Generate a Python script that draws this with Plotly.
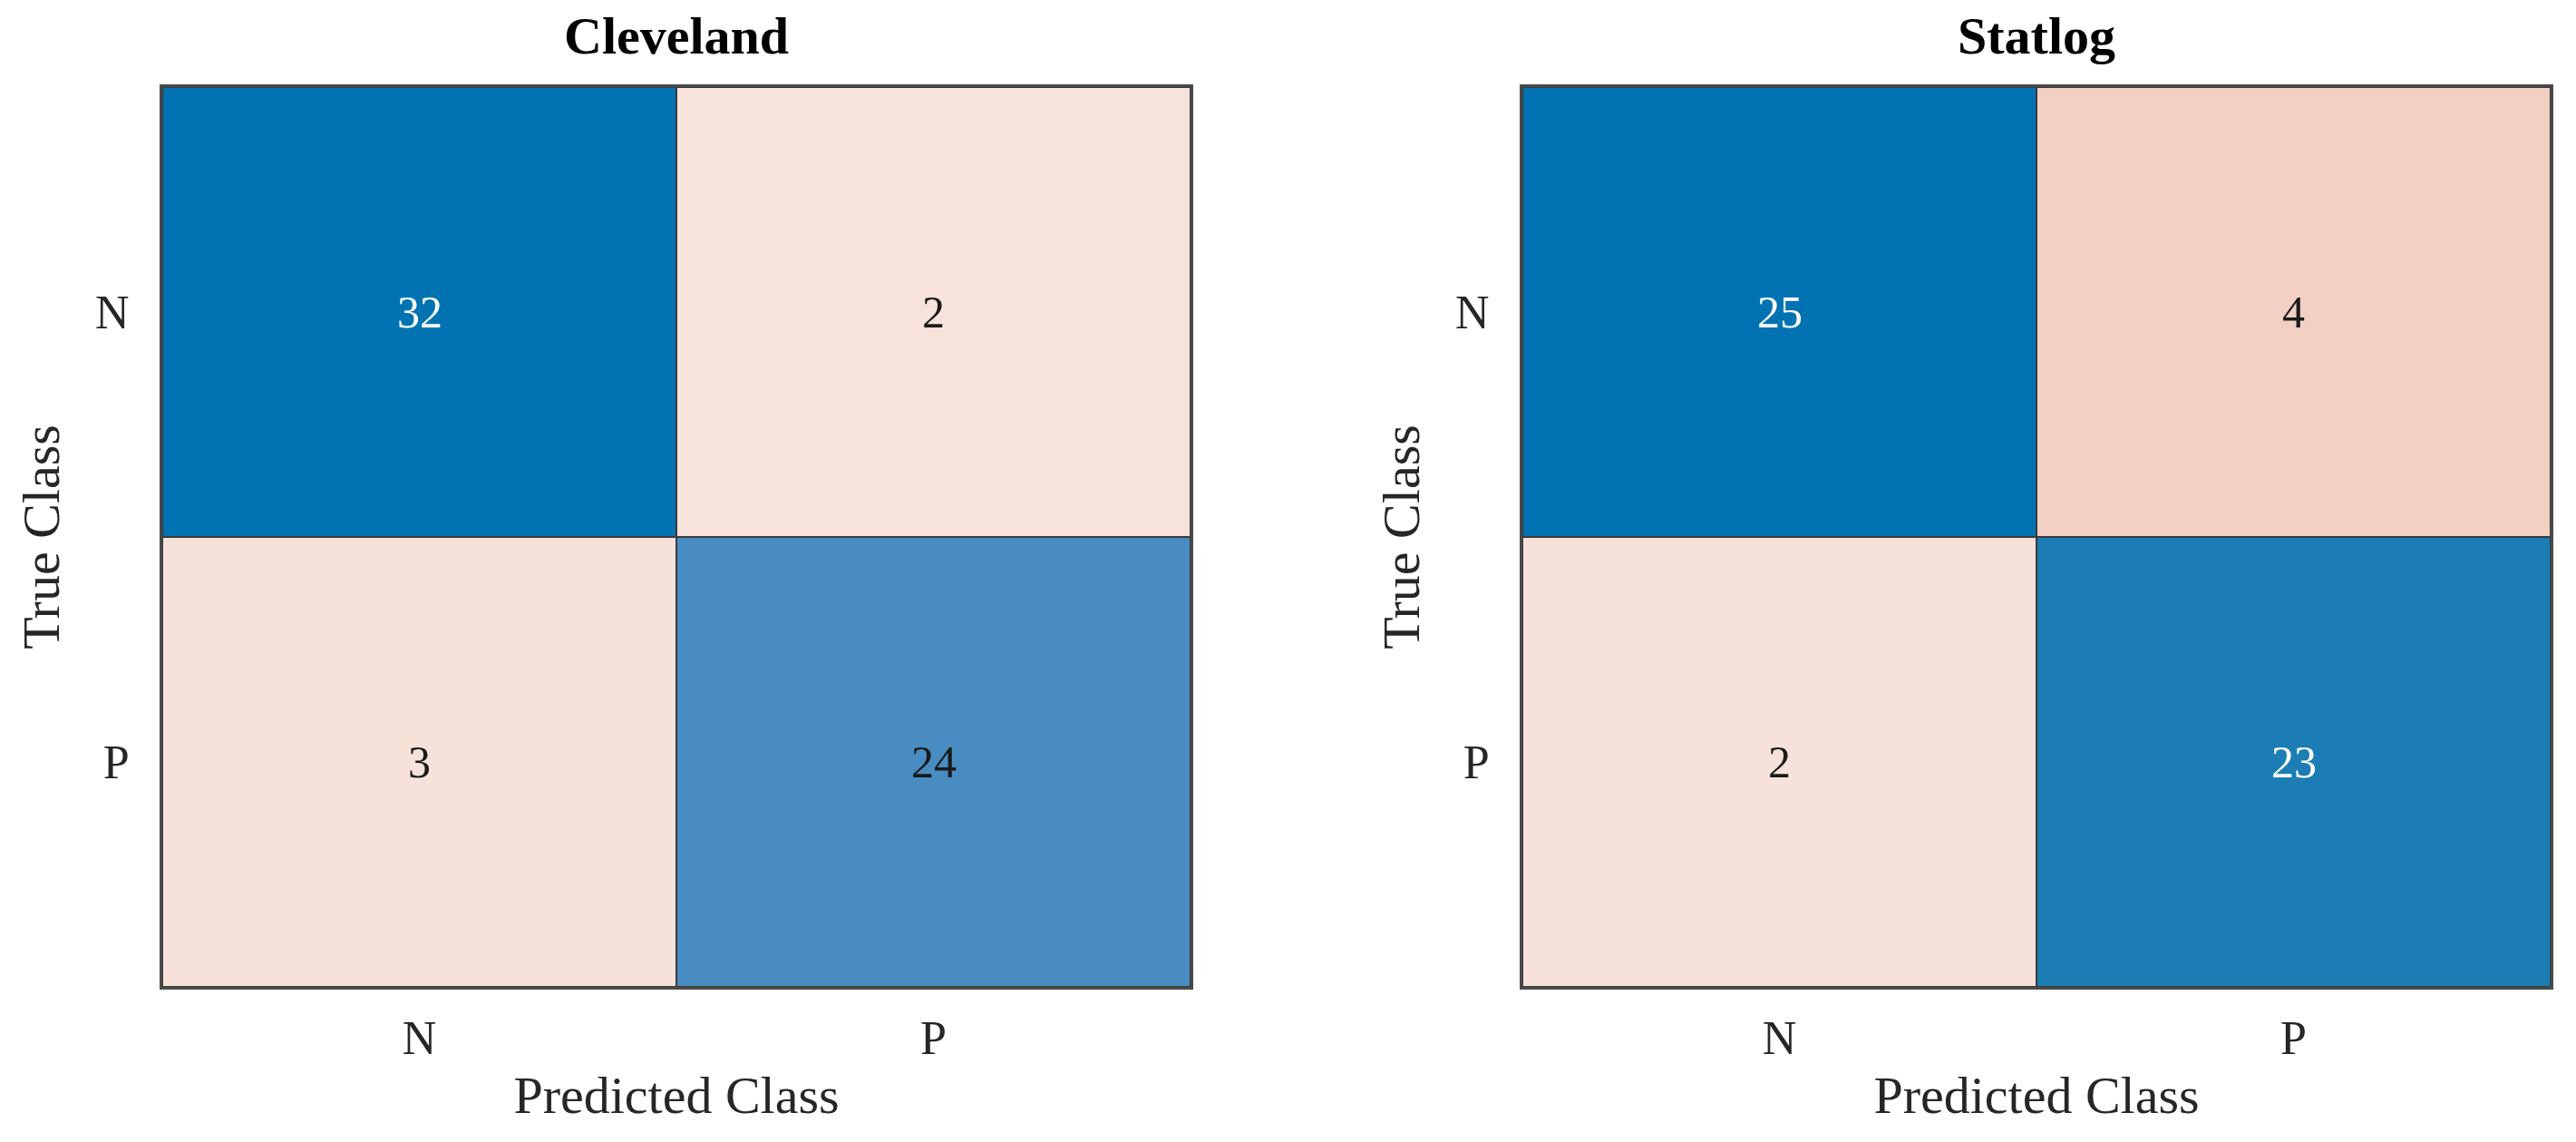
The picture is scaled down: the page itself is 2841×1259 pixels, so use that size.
import plotly.graph_objects as go

# ---- data ----
classes = ["N", "P"]
panel_titles = ["Cleveland", "Statlog"]
cleveland = [[32, 2],
             [3, 24]]
statlog = [[25, 4],
           [2, 23]]
matrices = [cleveland, statlog]
x_label = "Predicted Class"
y_label = "True Class"

# ---- layout geometry (pixels in the 2841x1259 page) ----
W, H = 2841, 1259
panels_px = [(171, 1305), (1671, 2805)]
top_px, bottom_px = 88, 1080
FONT = "Liberation Serif"
TXT = "#262626"

blue_scale = [[0, "#FFFFFF"], [0.75, "#488CC1"], [0.92, "#1B7DB4"], [1, "#0173B2"]]
pink_scale = [[0, "#F8E4DD"], [0.1, "#F7E2DA"], [0.16, "#F2D0C4"], [1, "#D95319"]]

fig = go.Figure()

for k, (M, title) in enumerate(zip(matrices, panel_titles)):
    mx = max(max(r) for r in M)
    n = len(classes)
    diag = [[M[i][j] if i == j else None for j in range(n)] for i in range(n)]
    off = [[M[i][j] if i != j else None for j in range(n)] for i in range(n)]
    xa = "x" if k == 0 else "x2"
    ya = "y" if k == 0 else "y2"
    for z, cs in ((diag, blue_scale), (off, pink_scale)):
        fig.add_trace(go.Heatmap(
            z=z, x=classes, y=classes, colorscale=cs, zmin=0, zmax=mx,
            showscale=False, xgap=2, ygap=2, xaxis=xa, yaxis=ya,
            hoverongaps=False))
    for i in range(n):
        for j in range(n):
            v = M[i][j]
            fig.add_annotation(
                x=classes[j], y=classes[i], xref=xa, yref=ya, text=str(v),
                showarrow=False,
                font=dict(family=FONT, size=50,
                          color="white" if v / mx > 0.85 else "#1a1a1a"))
    x0, x1 = panels_px[k]
    fig.add_annotation(
        x=(x0 + x1) / 2 / W, y=1 - 32 / H, xref="paper", yref="paper",
        xanchor="center", yanchor="middle", showarrow=False,
        text="<b>%s</b>" % title, font=dict(family=FONT, size=58, color="#000000"))

axis_common = dict(
    showline=True, mirror=True, linecolor="#4a4a4a", linewidth=3,
    ticks="", showgrid=False, zeroline=False,
    tickfont=dict(family=FONT, size=52, color=TXT),
)

ydom = [1 - bottom_px / H, 1 - top_px / H]
for k in range(2):
    x0, x1 = panels_px[k]
    sx = "" if k == 0 else "2"
    fig.update_layout(**{
        "xaxis" + sx: dict(
            axis_common, domain=[x0 / W, x1 / W], anchor="y" + sx,
            type="category", ticklabelstandoff=9,
            title=dict(text=x_label, font=dict(family=FONT, size=58, color=TXT), standoff=14),
        ),
        "yaxis" + sx: dict(
            axis_common, domain=ydom, anchor="x" + sx, type="category",
            autorange="reversed", ticklabelstandoff=23,
            title=dict(text=y_label, font=dict(family=FONT, size=58, color=TXT), standoff=21),
        ),
    })

fig.update_layout(
    width=W, height=H,
    margin=dict(l=0, r=0, t=0, b=0),
    paper_bgcolor="white", plot_bgcolor="#3a3a3a",
    showlegend=False,
)

fig.write_html("out.html")
